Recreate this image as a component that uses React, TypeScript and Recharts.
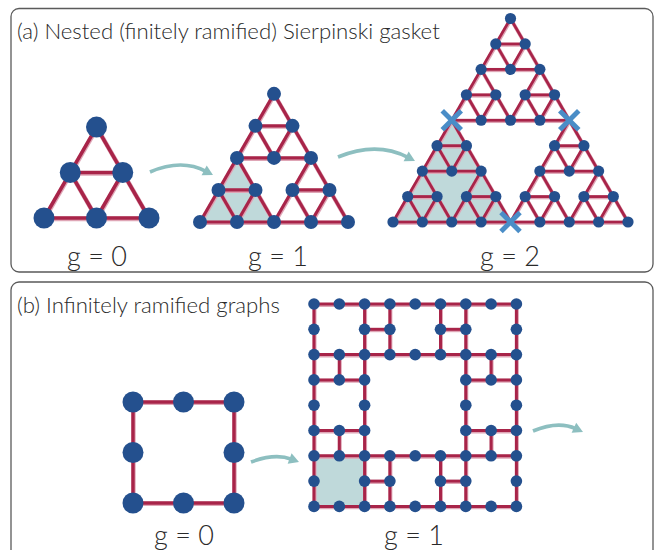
import React from "react";
import { ScatterChart, Scatter, XAxis, YAxis, ReferenceArea } from "recharts";

const WIDTH = 657;
const HEIGHT = 550;

const panelTitles = [
  "(a) Nested (finitely ramified) Sierpinski gasket",
  "(b) Infinitely ramified graphs",
];
const gasketGenerations = [0, 1, 2];
const gasketLabels = ["g = 0", "g = 1", "g = 2"];
const carpetGenerations = [0, 1];
const carpetLabels = ["g = 0", "g = 1"];

// lattice segments [line, from, to] along columns; rows use the same list transposed
const carpetSegments: number[][][] = [
  [
    [0, 0, 2],
    [2, 0, 2],
  ],
  [
    [0, 0, 8], [2, 0, 8], [6, 0, 8], [8, 0, 8],
    [1, 2, 3], [1, 5, 6], [7, 2, 3], [7, 5, 6],
    [3, 0, 2], [3, 6, 8], [5, 0, 2], [5, 6, 8],
  ],
];
// shaded copy in lattice cells [col0, row0, col1, row1]
const carpetShaded: (number[] | null)[] = [null, [0, 6, 2, 8]];

// ---- layout / style ----
const EDGE = "#a82449";
const EDGE_HALO = "#dfa6b6";
const NODE = "#24508e";
const CROSS = "#4a8dc7";
const SHADE = "#bfd9da";
const ARROW = "#8dbfc0";
const TEXT = "#2a2a2a";
const FONT = "Lato, 'Open Sans', sans-serif";

const panels = [
  { x: 11, y: 8.5, w: 642, h: 263.5, titleY: 39 },
  { x: 11, y: 282, w: 642, h: 290, titleY: 313 },
];
const gasketLayout = [
  { left: 44, base: 218, side: 105, r: 10.5, w: 3.6, labelX: 97 },
  { left: 200, base: 222, side: 148, r: 7, w: 3.2, labelX: 278 },
  { left: 393, base: 222, side: 235, r: 5.6, w: 2.8, labelX: 510 },
];
const carpetLayout = [
  { left: 133, top: 402, step: 50.5, r: 10.5, w: 3.4, labelX: 184 },
  { left: 314, top: 304, step: 25.3, r: 5.8, w: 3, labelX: 414 },
];
const gasketLabelY = 266;
const carpetLabelY = 545;
const arrows = [
  { from: [150, 172], to: [213, 175], lift: 15 },
  { from: [338, 157], to: [415, 161], lift: 18 },
  { from: [251, 462], to: [299, 462], lift: 9 },
  { from: [533, 431], to: [583, 432], lift: 11 },
];

type Pt = { x: number; y: number };
type Tri = [Pt, Pt, Pt];

const mid = (a: Pt, b: Pt): Pt => ({ x: (a.x + b.x) / 2, y: (a.y + b.y) / 2 });

function subdivide(t: Tri, depth: number): Tri[] {
  if (depth === 0) return [t];
  const [a, b, c] = t;
  const ab = mid(a, b);
  const bc = mid(b, c);
  const ca = mid(c, a);
  return [
    ...subdivide([a, ab, ca], depth - 1),
    ...subdivide([ab, b, bc], depth - 1),
    ...subdivide([ca, bc, c], depth - 1),
  ];
}

const key = (p: Pt) => `${p.x.toFixed(2)},${p.y.toFixed(2)}`;

function gasket(g: number) {
  const L = gasketLayout[g];
  const base: Tri = [
    { x: L.left, y: L.base },
    { x: L.left + L.side, y: L.base },
    { x: L.left + L.side / 2, y: L.base - (L.side * Math.sqrt(3)) / 2 },
  ];
  const leaves = subdivide(base, g + 1);
  const edges: Pt[] = [];
  const nodes = new Map<string, Pt & { cross?: boolean }>();
  leaves.forEach(([a, b, c]) => {
    edges.push(a, b, b, c, c, a);
    [a, b, c].forEach((p) => nodes.set(key(p), { ...p }));
  });
  // junctions between the three copies of the previous generation
  if (g >= 2) {
    [mid(base[0], base[1]), mid(base[1], base[2]), mid(base[2], base[0])].forEach((p) => {
      nodes.set(key(p), { ...p, cross: true });
    });
  }
  const shade = g >= 1 ? subdivide(base, 1)[0] : null;
  return { edges, nodes: [...nodes.values()], shade };
}

function carpet(g: number) {
  const L = carpetLayout[g];
  const at = (c: number, r: number): Pt => ({ x: L.left + c * L.step, y: L.top + r * L.step });
  const edges: Pt[] = [];
  const nodes = new Map<string, Pt>();
  carpetSegments[g].forEach(([line, from, to]) => {
    // vertical run, then its transpose
    edges.push(at(line, from), at(line, to), at(from, line), at(to, line));
    for (let k = from; k <= to; k++) {
      [at(line, k), at(k, line)].forEach((p) => nodes.set(key(p), p));
    }
  });
  const s = carpetShaded[g];
  const shade = s ? [at(s[0], s[1]), at(s[2], s[1]), at(s[2], s[3]), at(s[0], s[3])] : null;
  return { edges, nodes: [...nodes.values()], shade };
}

const noShape = () => <g />;

const edgeLine = (w: number) => (props: any) => {
  const pts: Pt[] = props.points || [];
  const segs: [Pt, Pt][] = [];
  for (let i = 0; i + 1 < pts.length; i += 2) segs.push([pts[i], pts[i + 1]]);
  return (
    <g>
      {segs.map(([a, b], i) => (
        <line key={`h${i}`} x1={a.x + 0.5} y1={a.y + 0.9} x2={b.x + 0.5} y2={b.y + 0.9}
          stroke={EDGE_HALO} strokeWidth={w + 1} />
      ))}
      {segs.map(([a, b], i) => (
        <line key={`e${i}`} x1={a.x} y1={a.y} x2={b.x} y2={b.y} stroke={EDGE} strokeWidth={w} />
      ))}
    </g>
  );
};

const polygonLine = (props: any) => {
  const pts: Pt[] = props.points || [];
  return <polygon points={pts.map((p) => `${p.x},${p.y}`).join(" ")} fill={SHADE} stroke="none" />;
};

const arrowLine = (props: any) => {
  const [s, c, e] = (props.points || []) as Pt[];
  if (!s || !c || !e) return <g />;
  const dx = e.x - c.x;
  const dy = e.y - c.y;
  const len = Math.hypot(dx, dy) || 1;
  const ux = dx / len;
  const uy = dy / len;
  const head = 10;
  const half = 5.5;
  const bx = e.x - ux * head;
  const by = e.y - uy * head;
  return (
    <g>
      <path d={`M${s.x},${s.y} Q${c.x},${c.y} ${bx + ux * 2},${by + uy * 2}`} fill="none"
        stroke={ARROW} strokeWidth={3.6} />
      <polygon
        points={`${e.x},${e.y} ${bx - uy * half},${by + ux * half} ${bx + uy * half},${by - ux * half}`}
        fill={ARROW}
      />
    </g>
  );
};

const nodeShape = (r: number) => (props: any) => {
  const { cx, cy, payload } = props;
  if (payload && payload.cross) {
    const d = 9.5;
    return (
      <g stroke={CROSS} strokeWidth={5}>
        <line x1={cx - d} y1={cy - d} x2={cx + d} y2={cy + d} />
        <line x1={cx - d} y1={cy + d} x2={cx + d} y2={cy - d} />
      </g>
    );
  }
  return <circle cx={cx} cy={cy} r={r} fill={NODE} />;
};

const textShape = (size: number, anchor: string, weight: number) => (props: any) => (
  <text x={props.cx} y={props.cy} fontSize={size} fontFamily={FONT} fontWeight={weight}
    fill={TEXT} textAnchor={anchor}>
    {props.payload.text}
  </text>
);

function graphSeries(id: string, g: { edges: Pt[]; nodes: Pt[]; shade: Pt[] | null }, r: number, w: number) {
  return [
    g.shade ? (
      <Scatter key={`${id}-shade`} data={g.shade} shape={noShape} line={polygonLine}
        lineType="joint" isAnimationActive={false} />
    ) : null,
    <Scatter key={`${id}-edges`} data={g.edges} shape={noShape} line={edgeLine(w)}
      lineType="joint" isAnimationActive={false} />,
    <Scatter key={`${id}-nodes`} data={g.nodes} shape={nodeShape(r)} isAnimationActive={false} />,
  ];
}

export default function App() {
  const gaskets = gasketGenerations.map((g) => gasket(g));
  const carpets = carpetGenerations.map((g) => carpet(g));

  const titles = panelTitles.map((text, i) => ({ x: panels[i].x + 6, y: panels[i].titleY, text }));
  const labels = [
    ...gasketLabels.map((text, i) => ({ x: gasketLayout[i].labelX, y: gasketLabelY, text })),
    ...carpetLabels.map((text, i) => ({ x: carpetLayout[i].labelX, y: carpetLabelY, text })),
  ];

  return (
    <div style={{ position: "absolute", left: 0, top: 0, background: "#fff" }}>
      <ScatterChart width={WIDTH} height={HEIGHT} margin={{ top: 0, right: 0, bottom: 0, left: 0 }}>
        <XAxis type="number" dataKey="x" domain={[0, WIDTH]} hide allowDataOverflow />
        <YAxis type="number" dataKey="y" domain={[0, HEIGHT]} reversed hide allowDataOverflow />
        {panels.map((p, i) => (
          <ReferenceArea
            key={`panel${i}`}
            x1={p.x}
            x2={p.x + p.w}
            y1={p.y}
            y2={p.y + p.h}
            ifOverflow="visible"
            shape={(s: any) => (
              <rect x={s.x} y={s.y} width={s.width} height={s.height} rx={8} ry={8}
                fill="none" stroke="#5a5a5a" strokeWidth={1.3} />
            )}
          />
        ))}
        {gaskets.map((g, i) => graphSeries(`gasket${i}`, g, gasketLayout[i].r, gasketLayout[i].w))}
        {carpets.map((g, i) => graphSeries(`carpet${i}`, g, carpetLayout[i].r, carpetLayout[i].w))}
        {arrows.map((a, i) => {
          const ctrl = {
            x: (a.from[0] + a.to[0]) / 2,
            y: (a.from[1] + a.to[1]) / 2 - a.lift,
          };
          const pts = [{ x: a.from[0], y: a.from[1] }, ctrl, { x: a.to[0], y: a.to[1] }];
          return (
            <Scatter key={`arrow${i}`} data={pts} shape={noShape} line={arrowLine}
              lineType="joint" isAnimationActive={false} />
          );
        })}
        <Scatter data={titles} shape={textShape(22.2, "start", 300)} isAnimationActive={false} />
        <Scatter data={labels} shape={textShape(27, "middle", 300)} isAnimationActive={false} />
      </ScatterChart>
    </div>
  );
}
